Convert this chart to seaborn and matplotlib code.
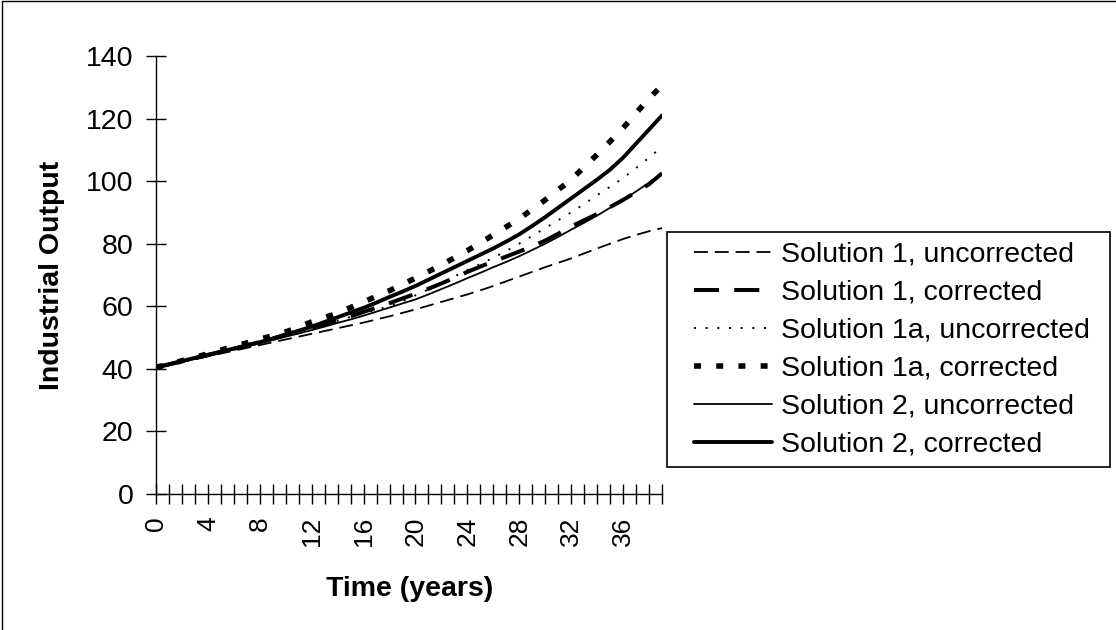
import matplotlib
matplotlib.use("Agg")
import matplotlib.pyplot as plt
import seaborn as sns
from matplotlib.lines import Line2D
from matplotlib.patches import Rectangle

years = list(range(40))

sol1_uncorrected = [40.5, 41.3, 42.2, 43.1, 44.0, 44.9, 45.8, 46.7, 47.6, 48.5,
                    49.4, 50.3, 51.2, 52.1, 53.0, 53.9, 54.8, 55.8, 56.8, 57.9,
                    59.0, 60.2, 61.4, 62.6, 63.8, 65.1, 66.5, 68.0, 69.5, 71.0,
                    72.5, 73.9, 75.3, 76.9, 78.5, 80.0, 81.5, 82.8, 84.0, 85.0]
sol1_corrected = [40.5, 41.4, 42.4, 43.4, 44.4, 45.4, 46.4, 47.5, 48.6, 49.7,
                  50.8, 51.9, 53.0, 54.2, 55.5, 56.8, 58.2, 59.6, 61.0, 62.5,
                  64.0, 65.6, 67.3, 69.1, 71.0, 72.7, 74.3, 75.9, 77.5, 79.2,
                  81.0, 83.2, 85.5, 87.5, 89.5, 91.7, 94.0, 96.5, 99.0, 102.5]
sol1a_uncorrected = [40.5, 41.5, 42.5, 43.5, 44.5, 45.5, 46.5, 47.5, 48.6, 49.7,
                     50.8, 51.9, 53.0, 54.2, 55.4, 56.6, 57.8, 58.9, 60.0, 61.6,
                     63.5, 65.4, 67.3, 69.5, 71.6, 73.5, 75.5, 77.7, 80.0, 82.5,
                     85.0, 87.5, 90.0, 92.7, 95.5, 98.2, 101.0, 104.2, 107.5, 111.0]
sol1a_corrected = [40.5, 41.5, 42.6, 43.7, 44.8, 46.0, 47.2, 48.3, 49.5, 50.6,
                   51.8, 53.4, 55.0, 56.4, 57.8, 59.6, 61.4, 63.2, 65.0, 67.0,
                   69.0, 71.1, 73.2, 75.5, 77.8, 80.3, 82.8, 85.4, 88.0, 91.0,
                   94.0, 97.2, 100.5, 104.5, 108.5, 112.7, 117.0, 121.7, 126.5, 130.5]
sol2_uncorrected = [40.5, 41.4, 42.3, 43.2, 44.2, 45.2, 46.2, 47.2, 48.2, 49.2,
                    50.3, 51.3, 52.4, 53.5, 54.7, 55.8, 57.0, 58.3, 59.6, 60.9,
                    62.2, 63.8, 65.5, 67.2, 69.0, 70.7, 72.5, 74.2, 76.0, 78.0,
                    80.0, 82.2, 84.5, 86.7, 89.0, 91.5, 94.0, 96.7, 99.5, 102.5]
sol2_corrected = [40.5, 41.5, 42.5, 43.5, 44.5, 45.5, 46.5, 47.5, 48.5, 49.7,
                  51.0, 52.2, 53.5, 55.0, 56.5, 58.0, 59.5, 61.2, 63.0, 64.7,
                  66.5, 68.5, 70.5, 72.5, 74.5, 76.5, 78.5, 80.7, 83.0, 85.7,
                  88.5, 91.5, 94.5, 97.5, 100.5, 103.7, 107.5, 112.0, 116.5, 121.0]

labels = ["Solution 1, uncorrected", "Solution 1, corrected",
          "Solution 1a, uncorrected", "Solution 1a, corrected",
          "Solution 2, uncorrected", "Solution 2, corrected"]
y_ticks = [0, 20, 40, 60, 80, 100, 120, 140]

sns.set_style("white")
plt.rcParams["font.family"] = ["Liberation Sans", "DejaVu Sans"]
plt.rcParams["lines.scale_dashes"] = False
plt.rcParams["text.color"] = "black"

W, H = 1116, 630
fig = plt.figure(figsize=(W / 100, H / 100), dpi=100)
ax = fig.add_axes([156 / W, 1 - 494 / H, 506 / W, 438 / H])

series = [sol1_uncorrected, sol1_corrected, sol1a_uncorrected,
          sol1a_corrected, sol2_uncorrected, sol2_corrected]
styles = [
    dict(linewidth=1.3, linestyle=(0, (10, 5))),
    dict(linewidth=2.9, linestyle=(0, (18, 11))),
    dict(linewidth=1.4, linestyle=(0, (1.4, 7))),
    dict(linewidth=4.0, linestyle=(0, (5, 11))),
    dict(linewidth=1.3, linestyle="-"),
    dict(linewidth=2.8, linestyle="-"),
]
for vals, lab, st in zip(series, labels, styles):
    sns.lineplot(x=years, y=vals, ax=ax, color="black", label=lab, **st)

ax.set_xlim(0, 39)
ax.set_ylim(0, 140)
ax.set_yticks(y_ticks)
ax.set_xticks(years)
ax.set_xticklabels([str(t) if t % 4 == 0 else "" for t in years], rotation=90)
ax.tick_params(axis="both", which="major", direction="inout", length=14.4,
               width=1, color="black", labelcolor="black",
               bottom=True, left=True)
ax.tick_params(axis="y", pad=9, labelsize=20.5)
ax.tick_params(axis="x", pad=9, labelsize=19)
for s in ["top", "right"]:
    ax.spines[s].set_visible(False)
for s in ["left", "bottom"]:
    ax.spines[s].set_color("black")
    ax.spines[s].set_linewidth(1)

ax.set_xlabel("")
ax.set_ylabel("")
fig.text(410 / W, 1 - 589 / H, "Time (years)", ha="center", va="center",
         fontsize=20.5, fontweight="bold", color="black")
fig.text(52 / W, 1 - 275 / H, "Industrial Output", ha="center", va="center",
         rotation=90, fontsize=20.5, fontweight="bold", color="black")

fs = 20.5
fs_px = fs * 100 / 72
bp = 0.35
leg = ax.legend(loc="upper left",
                bbox_to_anchor=((694 - bp * fs_px) / W, 1 - 232 / H),
                bbox_transform=fig.transFigure, borderaxespad=0, frameon=False,
                fontsize=fs, handlelength=78 / fs_px, handletextpad=0.3,
                labelspacing=0.42, borderpad=bp)
for t in leg.get_texts():
    t.set_color("black")

fig.add_artist(Rectangle((667 / W, 1 - 467 / H), (1110 - 667) / W, (467 - 232) / H,
                         transform=fig.transFigure, fill=False,
                         edgecolor="black", linewidth=1.2))
fig.add_artist(Line2D([0.002, 0.002], [0, 0.998], transform=fig.transFigure,
                      color="black", linewidth=1))
fig.add_artist(Line2D([0.002, 1], [0.998, 0.998], transform=fig.transFigure,
                      color="black", linewidth=1))

fig.savefig("out.png", dpi=100, facecolor="white")
